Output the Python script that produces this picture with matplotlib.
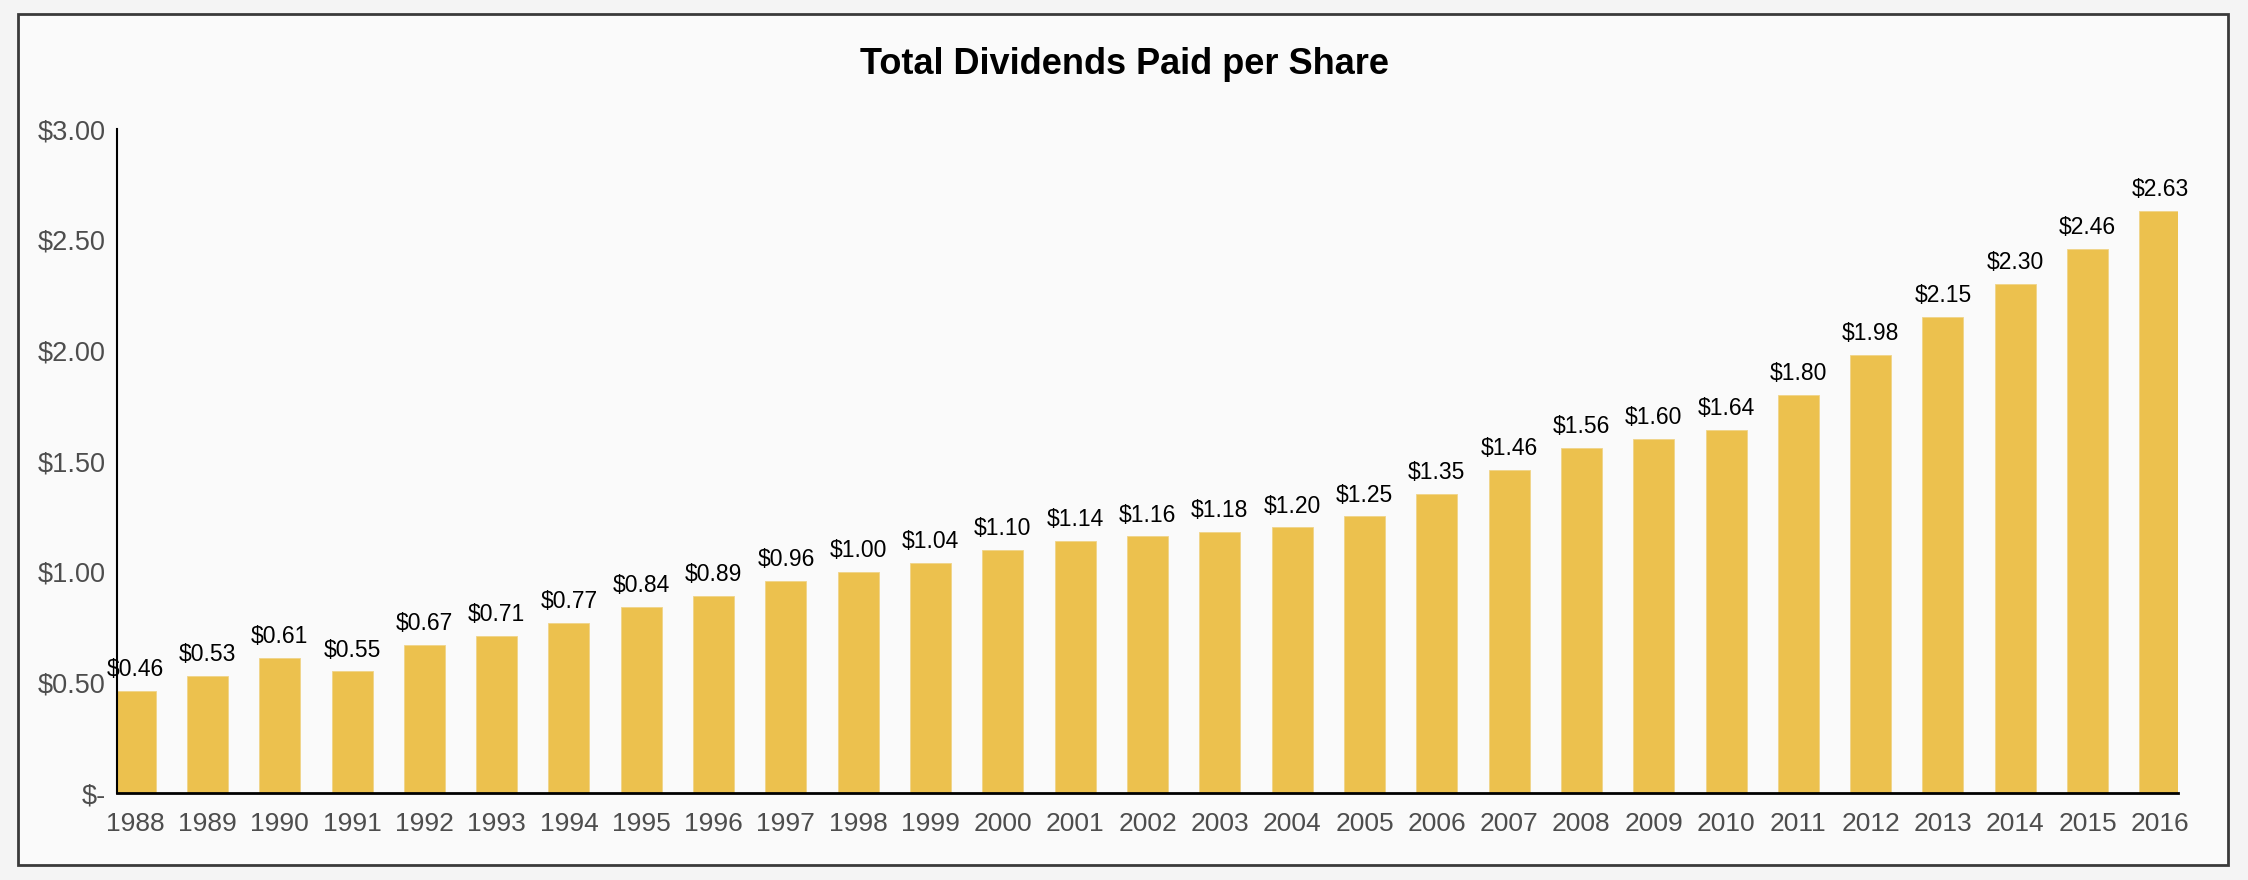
import matplotlib
matplotlib.use("Agg")
import matplotlib.pyplot as plt
from matplotlib.patches import Rectangle
from matplotlib.ticker import FuncFormatter

plt.rcParams['font.family'] = ['Liberation Sans', 'DejaVu Sans']

# data
years = [str(y) for y in range(1988, 2017)]
dividends = [0.46, 0.53, 0.61, 0.55, 0.67, 0.71, 0.77, 0.84, 0.89, 0.96,
             1.00, 1.04, 1.10, 1.14, 1.16, 1.18, 1.20, 1.25, 1.35, 1.46,
             1.56, 1.60, 1.64, 1.80, 1.98, 2.15, 2.30, 2.46, 2.63]
y_ticks = [0, 0.5, 1.0, 1.5, 2.0, 2.5, 3.0]

bar_color = '#ECC14E'
tick_color = '#4d4d4d'

fig = plt.figure(figsize=(22.48, 8.8), dpi=100)
fig.patch.set_facecolor('#f4f4f4')

# framed panel
W, H = 2248, 880
panel = Rectangle((18 / W, 1 - 865 / H), (2228 - 18) / W, (865 - 14) / H,
                  transform=fig.transFigure, facecolor='#fafafa',
                  edgecolor='#3a3a3a', linewidth=2, zorder=-10)
fig.patches.append(panel)

ax = fig.add_axes([117 / W, 87 / H, (2178 - 117) / W, (751 - 87) / H])
ax.set_facecolor('none')
ax.set_zorder(5)

x = list(range(len(years)))
bars = ax.bar(x, dividends, width=0.567, color=bar_color,
              edgecolor='#f0d488', linewidth=0.6, zorder=2)

for xi, v in zip(x, dividends):
    ax.annotate(f'${v:.2f}', (xi, v), xytext=(0, 7), textcoords='offset points',
                ha='center', va='bottom', fontsize=16.5, color='black')

ax.set_xlim(-0.25, 28.25)
ax.set_ylim(0, 3.0)
ax.set_xticks(x)
ax.set_xticklabels(years)
ax.set_yticks(y_ticks)
ax.yaxis.set_major_formatter(FuncFormatter(lambda v, p: '$-' if v == 0 else f'${v:.2f}'))

ax.tick_params(axis='both', length=0, labelsize=19, colors=tick_color)
ax.tick_params(axis='y', labelsize=19.5, pad=8)
ax.tick_params(axis='x', pad=14)

for s in ['top', 'right']:
    ax.spines[s].set_visible(False)
ax.spines['left'].set_linewidth(1.5)
ax.spines['left'].set_color('black')
ax.spines['bottom'].set_linewidth(2)
ax.spines['bottom'].set_color('black')
ax.spines['bottom'].set_zorder(3)

fig.text(0.5, 1 - 64 / H, 'Total Dividends Paid per Share', ha='center', va='center',
         fontsize=26, fontweight='bold', color='black')

fig.savefig('out.png', dpi=100, facecolor=fig.get_facecolor())
